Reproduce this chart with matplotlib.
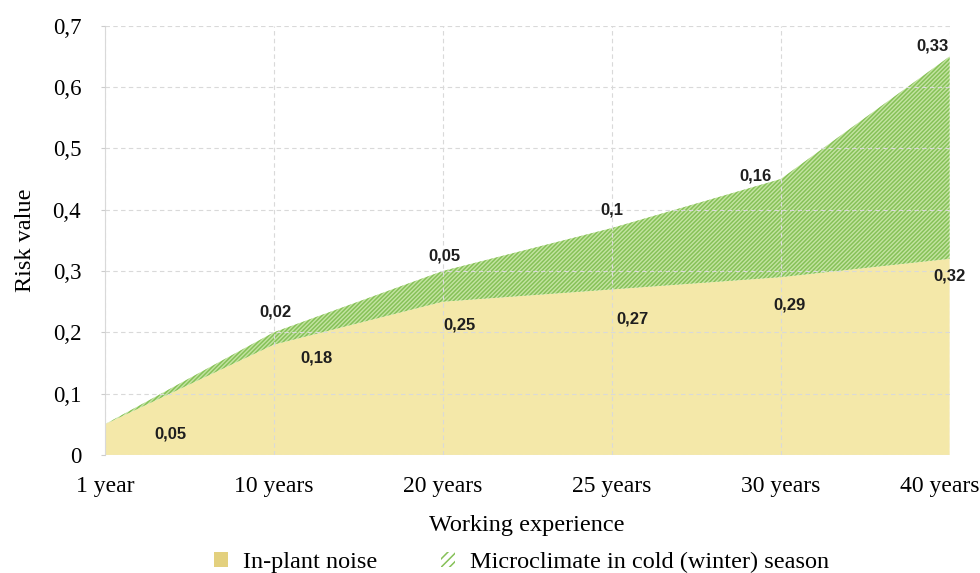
import matplotlib.pyplot as plt
from matplotlib.patches import Patch
import matplotlib.transforms as mtransforms
import numpy as np

categories = ["1 year", "10 years", "20 years", "25 years", "30 years", "40 years"]
noise = [0.05, 0.18, 0.25, 0.27, 0.29, 0.32]
microclimate = [0.0, 0.02, 0.05, 0.1, 0.16, 0.33]
noise_labels = ["0,05", "0,18", "0,25", "0,27", "0,29", "0,32"]
micro_labels = ["", "0,02", "0,05", "0,1", "0,16", "0,33"]

# label offsets in points (dx, dy)
noise_off = [(47, -7), (31, -10), (12, -17), (15, -21), (6, -20), (0, -12.5)]
micro_off = [(0, 0), (1, 15), (1, 11), (0, 13), (-18, 2), (-12, 7.5)]

plt.rcParams["font.family"] = "Liberation Serif"
plt.rcParams["hatch.linewidth"] = 1.1

fig = plt.figure(figsize=(9.8, 5.73), dpi=100)
ax = fig.add_axes([0.107, 0.206, 0.862, 0.749])

x = np.arange(len(categories))
noise = np.array(noise)
top = noise + np.array(microclimate)

ax.fill_between(x, 0, noise, facecolor="#f4e8a9", linewidth=0, zorder=2)
ax.fill_between(x, noise, top, facecolor="#c4e4a2", edgecolor="#86c158",
                hatch="////////", linewidth=0, zorder=2)

for i in range(len(x)):
    ax.annotate(noise_labels[i], (x[i], noise[i]), xytext=noise_off[i],
                textcoords="offset points", ha="center", va="center",
                fontsize=12, fontweight="bold", family="Liberation Sans",
                color="#1e1e1e", zorder=5)
    if micro_labels[i]:
        ax.annotate(micro_labels[i], (x[i], top[i]), xytext=micro_off[i],
                    textcoords="offset points", ha="center", va="center",
                    fontsize=12, fontweight="bold", family="Liberation Sans",
                    color="#1e1e1e", zorder=5)

ax.set_xlim(0, len(x) - 1)
ax.set_ylim(0, 0.7)
ax.set_xticks(x)
ax.set_xticklabels(categories, fontsize=17)
yt = np.arange(0, 0.71, 0.1)
ax.set_yticks(yt)
ax.set_yticklabels(["0"] + [("%.1f" % v).replace(".", ",") for v in yt[1:]], fontsize=16.5)
ax.tick_params(axis="x", length=0, pad=15)
ax.tick_params(axis="y", length=3, color="#cccccc", pad=14)

# keep the last category label inside the picture
last = ax.get_xticklabels()[-1]
last.set_transform(last.get_transform() +
                   mtransforms.ScaledTranslation(-10 / 100, 0, fig.dpi_scale_trans))

ax.grid(True, linestyle=(0, (4, 3)), color="#d9d9d9", linewidth=0.8, zorder=3)
ax.set_axisbelow(False)
for s in ["top", "right", "bottom"]:
    ax.spines[s].set_visible(False)
ax.spines["left"].set_color("#d9d9d9")

ax.set_xlabel("Working experience", fontsize=17.5, labelpad=13)
ax.set_ylabel("Risk value", fontsize=17.5, labelpad=12)

handles = [Patch(facecolor="#e3d07e", linewidth=0, label="In-plant noise"),
           Patch(facecolor="white", edgecolor="#86c158", hatch="////", linewidth=0,
                 label="Microclimate in cold (winter) season")]
fig.legend(handles=handles, loc="center", bbox_to_anchor=(0.532, 0.018), ncol=2,
           frameon=False, fontsize=17.5, handlelength=0.6, handleheight=0.6,
           columnspacing=2.6, handletextpad=0.6)

fig.savefig("out.png", dpi=100)
